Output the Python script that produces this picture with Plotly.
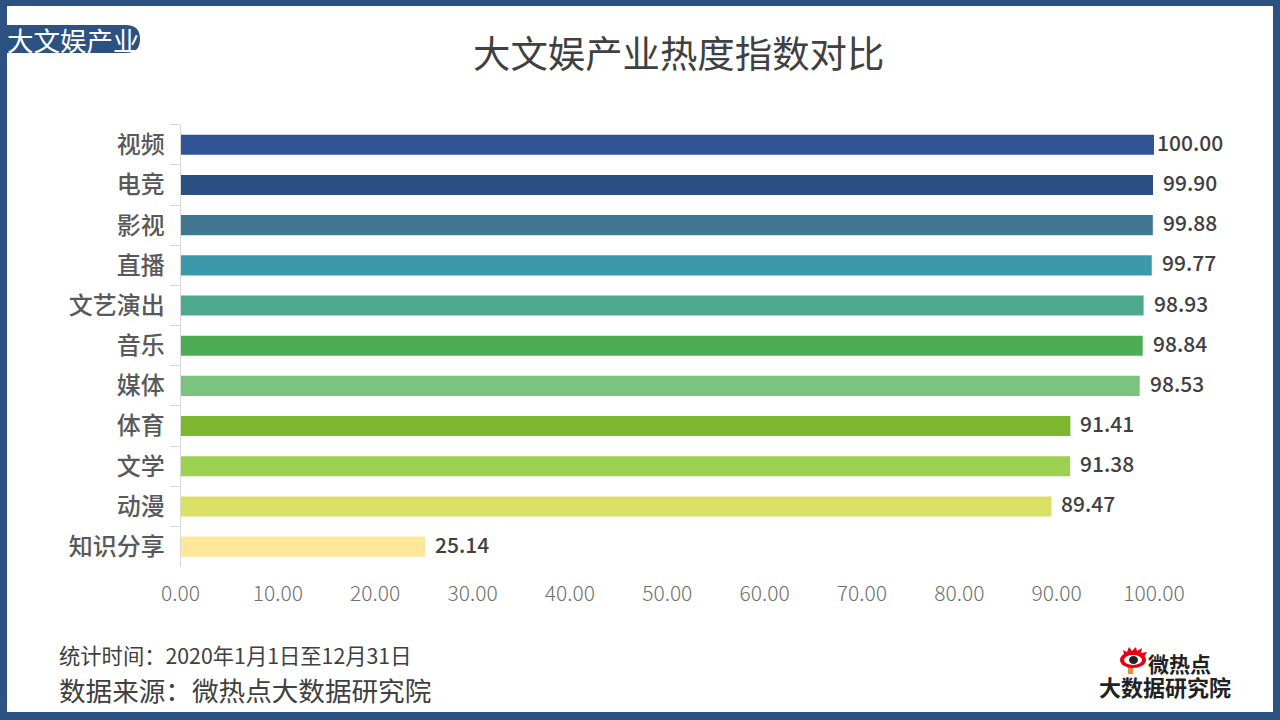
import plotly.graph_objs as go

categories = ['视频', '电竞', '影视', '直播', '文艺演出', '音乐', '媒体', '体育', '文学', '动漫', '知识分享']
values = [100.00, 99.90, 99.88, 99.77, 98.93, 98.84, 98.53, 91.41, 91.38, 89.47, 25.14]
bar_colors = ['#2F5597', '#2A4F82', '#427792', '#3A9AAB', '#4FA98D', '#4EAC55',
              '#7AC47F', '#7DB72F', '#9CD04F', '#D9E064', '#FFE699']
x_ticks = [0, 10, 20, 30, 40, 50, 60, 70, 80, 90, 100]

W = 1280
H = 720
FONT = 'Noto Sans CJK SC'
MEDIUM = 'Noto Sans CJK SC Medium'
LIGHT = 'Noto Sans CJK SC Light'
BORDER = '#2C5282'


# pixel position on the page -> paper coordinates
def px(x):
    return x / W


def py(y):
    return 1 - y / H


def rect(x0, y0, x1, y1, color):
    return dict(type='rect', xref='paper', yref='paper', x0=px(x0), x1=px(x1),
                y0=py(y0), y1=py(y1), fillcolor=color, line_width=0, layer='above')


def circle(x0, y0, x1, y1, color):
    return dict(type='circle', xref='paper', yref='paper', x0=px(x0), x1=px(x1),
                y0=py(y0), y1=py(y1), fillcolor=color, line_width=0, layer='above')


def polygon(points, color):
    path = 'M ' + ' L '.join('%f %f' % (px(x), py(y)) for x, y in points) + ' Z'
    return dict(type='path', path=path, xref='paper', yref='paper', fillcolor=color,
                line_width=0, layer='above')


def page_text(text, x, y, size, color, anchor='left', bold=False):
    if bold:
        text = '<b>' + text + '</b>'
    return dict(text=text, x=px(x), y=py(y), xref='paper', yref='paper', showarrow=False,
                xanchor=anchor, yanchor='middle', font=dict(family=FONT, size=size, color=color))


# value labels sit at the bar end; the full-length bar keeps a narrower gap
value_labels = [
    dict(text='%.2f' % v, x=v, y=c, xref='x', yref='y', showarrow=False,
         xanchor='left', yanchor='middle', xshift=1 if v >= 100 else 8, yshift=3,
         font=dict(family=MEDIUM, size=21, color='#404040'))
    for v, c in zip(values, categories)
]

fig = go.Figure(data=go.Bar(
    name='BarChart',
    x=values,
    y=categories,
    orientation='h',
    marker=dict(color=bar_colors, line_width=0),
))

# pill behind the section label, round on the right side only
pill = 'M %f %f L %f %f Q %f %f %f %f Q %f %f %f %f L %f %f Z' % (
    px(7), py(25), px(126), py(25), px(140), py(25), px(140), py(39),
    px(140), py(53), px(126), py(53), px(7), py(53))

flame = [(1122, 656), (1124, 654), (1123, 650), (1127, 652), (1129, 647), (1132, 651), (1136, 647),
         (1137, 651), (1142, 648), (1141, 653), (1147, 652), (1144, 657)]

fig.update_layout(
    width=W,
    height=H,
    template=None,
    showlegend=False,
    paper_bgcolor='white',
    plot_bgcolor='white',
    margin=dict(l=0, r=0, t=0, b=0),
    bargap=0.5,
    xaxis=dict(
        domain=[px(180.5), px(1154)],
        range=[0, 100],
        tickvals=x_ticks,
        tickformat='.2f',
        showgrid=False,
        zeroline=False,
        showline=False,
        ticks='',
        automargin=False,
        ticklabelstandoff=12,
        tickfont=dict(family=LIGHT, size=21, color='#6F6F6F'),
        anchor='y',
    ),
    yaxis=dict(
        domain=[py(566.7), py(124.7)],
        autorange='reversed',
        tickson='boundaries',
        ticks='outside',
        ticklen=10,
        tickcolor='#D9D9D9',
        showline=True,
        linecolor='#D9D9D9',
        showgrid=False,
        zeroline=False,
        automargin=False,
        ticklabelstandoff=10,
        tickfont=dict(family=MEDIUM, size=24, color='#595959'),
    ),
    shapes=[
        rect(0, 0, W, 6, BORDER),
        rect(0, 712, W, H, BORDER),
        rect(0, 0, 7, H, BORDER),
        rect(1273, 0, W, H, BORDER),
        dict(type='path', path=pill, xref='paper', yref='paper', fillcolor=BORDER,
             line_width=0, layer='above'),
        # logo eye
        polygon(flame, '#E60012'),
        rect(1128, 665, 1133, 674, '#F08A3C'),
        circle(1120, 652, 1146, 668, '#E60012'),
        circle(1124, 655, 1142, 665, 'white'),
        circle(1129, 656, 1138, 664, '#222222'),
    ],
    annotations=value_labels + [
        page_text('大文娱产业', 5, 39, 26.5, 'white'),
        page_text('大文娱产业热度指数对比', 678, 52, 37.4, '#404040', anchor='center'),
        page_text('统计时间：2020年1月1日至12月31日', 57, 654, 21.3, '#404040'),
        page_text('数据来源：微热点大数据研究院', 57, 689, 26.6, '#404040'),
        page_text('微热点', 1146, 663, 21, '#222222', bold=True),
        page_text('大数据研究院', 1097, 686, 22, '#222222', bold=True),
    ],
)

fig.write_html('out.html', config=dict(displayModeBar=False),
               post_script="document.body.style.margin='0';document.body.style.overflow='hidden';")
